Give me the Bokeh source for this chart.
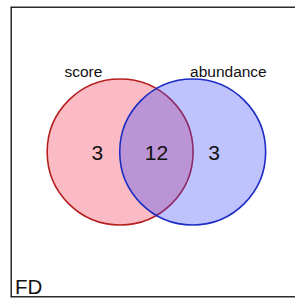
from bokeh.plotting import figure
from bokeh.models import Range1d, Span
from bokeh.core.properties import value
from bokeh.embed import file_html
from bokeh.resources import INLINE

# data
set_names = ["score", "abundance"]
region_labels = ["3", "12", "3"]  # score only, both, abundance only
panel_label = "FD"
fill_colors = ["#f02a48", "#3642f8"]
line_colors = ["#b5201f", "#1c2cc4"]

# layout (reference pixel coordinates used as data units)
R = 75
cy = 155.5
cx = [122.7, 197.3]

p = figure(width=295, height=299, output_backend="svg", toolbar_location=None,
           x_range=Range1d(10, 303), y_range=Range1d(305, 6),
           x_axis_location=None, y_axis_location=None,
           min_border_left=10, min_border_top=6, min_border_bottom=2, min_border_right=0)
p.grid.visible = False
p.outline_line_color = None
p.background_fill_color = "white"
p.border_fill_color = "white"

# panel border on left, top and bottom (right edge lies outside the view)
for dim, loc in (("height", 10), ("width", 6), ("width", 305)):
    p.add_layout(Span(location=loc, dimension=dim, line_color="#2a2a2a", line_width=3))

for i in range(2):
    p.circle(x=[cx[i]], y=[cy], radius=R, fill_color=fill_colors[i], fill_alpha=0.32,
             line_color=line_colors[i], line_width=1.6)

font = value("Liberation Sans")
num_x = [cx[0] - 23.5, (cx[0] + cx[1]) / 2, cx[1] + 22]
p.text(x=num_x, y=[cy + 1.5] * 3, text=region_labels, text_font=font,
       text_font_size="21px", text_align="center", text_baseline="middle", text_color="#111111")

p.text(x=[85, 234], y=[72.5, 72.5], text=set_names, text_font=font,
       text_font_size="15.5px", text_align="center", text_baseline="middle", text_color="#111111")

p.text(x=[14.5], y=[293.5], text=[panel_label], text_font=font,
       text_font_size="20.5px", text_align="left", text_baseline="alphabetic", text_color="#111111")

open("out.html", "w").write(file_html(p, INLINE))
